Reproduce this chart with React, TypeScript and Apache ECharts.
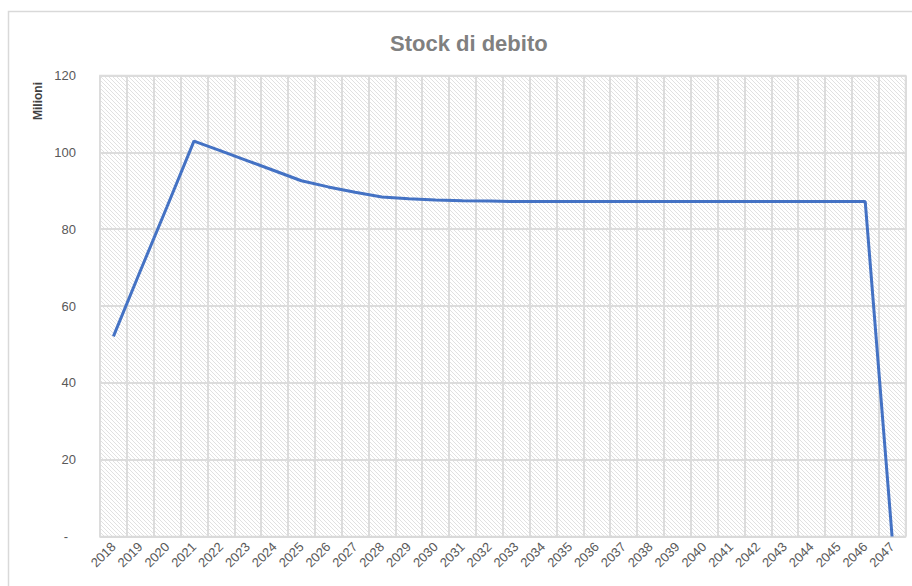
import React, { useEffect, useRef } from "react";
import * as echarts from "echarts";

const years: string[] = [
  "2018", "2019", "2020", "2021", "2022", "2023", "2024", "2025", "2026", "2027",
  "2028", "2029", "2030", "2031", "2032", "2033", "2034", "2035", "2036", "2037",
  "2038", "2039", "2040", "2041", "2042", "2043", "2044", "2045", "2046", "2047",
];

const debtStock: number[] = [
  52.1, 69.1, 85.9, 102.9, 100.4, 97.8, 95.2, 92.6, 91.0, 89.6,
  88.4, 87.9, 87.6, 87.4, 87.3, 87.2, 87.2, 87.2, 87.2, 87.2,
  87.2, 87.2, 87.2, 87.2, 87.2, 87.2, 87.2, 87.2, 87.2, 0,
];

const titleText = "Stock di debito";
const yAxisName = "Milioni";

function makeHatch(): string {
  const c = document.createElement("canvas");
  c.width = 4;
  c.height = 4;
  const ctx = c.getContext("2d");
  if (ctx) {
    ctx.fillStyle = "#ffffff";
    ctx.fillRect(0, 0, 4, 4);
    ctx.fillStyle = "#e1e1e1";
    for (let i = 0; i < 4; i++) {
      ctx.fillRect(i, i, 1, 1);
    }
  }
  return c.toDataURL();
}

export default function App() {
  const ref = useRef<HTMLDivElement>(null);
  useEffect(() => {
    if (!ref.current) return;
    const chart = echarts.init(ref.current, undefined, { renderer: "svg" });
    const hatch = makeHatch();
    chart.setOption({
      animation: false,
      backgroundColor: "#ffffff",
      textStyle: { fontFamily: "Liberation Sans, Arial, sans-serif" },
      title: {
        text: titleText,
        left: 385,
        top: 27,
        textStyle: {
          fontSize: 22,
          fontWeight: "bold",
          color: "#808080",
          fontFamily: "Liberation Sans, Arial, sans-serif",
        },
      },
      graphic: [
        {
          type: "rect",
          shape: { x: 8.5, y: 11.5, width: 1000, height: 1000 },
          style: { fill: "none", stroke: "#d9d9d9", lineWidth: 1.5 },
          silent: true,
        },
        {
          type: "text",
          x: 38,
          y: 101,
          rotation: Math.PI / 2,
          style: {
            text: yAxisName,
            fontSize: 12,
            fontWeight: "bold",
            fill: "#404040",
            textAlign: "center",
            textVerticalAlign: "middle",
            fontFamily: "Liberation Sans Narrow, Liberation Sans, Arial, sans-serif",
          },
        },
      ],
      grid: {
        left: 100,
        right: 6.5,
        top: 75.5,
        bottom: 49.5,
        show: true,
        backgroundColor: { image: hatch, repeat: "repeat" },
        borderColor: "#d9d9d9",
        borderWidth: 1.5,
      },
      xAxis: {
        type: "category",
        data: years,
        boundaryGap: true,
        axisLine: { show: true, lineStyle: { color: "#d9d9d9", width: 1.5 } },
        axisTick: { show: false },
        axisLabel: {
          interval: 0,
          rotate: 45,
          margin: 8,
          fontSize: 13,
          color: "#595959",
        },
        splitLine: {
          show: true,
          interval: 0,
          lineStyle: { color: "#dcdcdc", width: 2 },
        },
      },
      yAxis: {
        type: "value",
        min: 0,
        max: 120,
        interval: 20,
        axisLine: { show: false },
        axisTick: { show: false },
        axisLabel: {
          margin: 24,
          fontSize: 13,
          color: "#595959",
          formatter: (v: number) => (v === 0 ? "{d|-}" : String(v)),
          rich: { d: { fontSize: 13, color: "#595959", padding: [0, 8, 0, 0] } },
        },
        splitLine: { show: true, lineStyle: { color: "#dcdcdc", width: 2 } },
      },
      series: [
        {
          type: "line",
          data: debtStock,
          symbol: "none",
          lineStyle: { color: "#4472c4", width: 3 },
        },
      ],
    });
    return () => chart.dispose();
  }, []);
  return (
    <div
      ref={ref}
      style={{ position: "absolute", left: 0, top: 0, width: 912, height: 586 }}
    />
  );
}
